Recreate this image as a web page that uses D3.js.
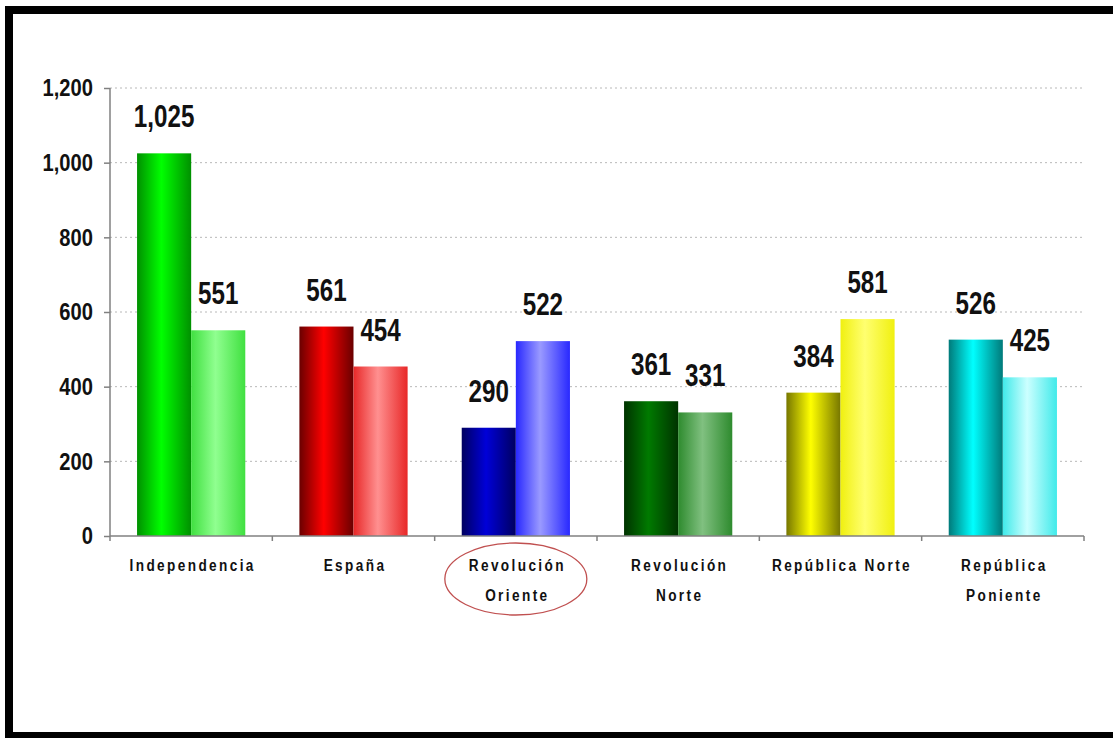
<!DOCTYPE html>
<html>

<head>
    <meta charset="utf-8">
    <title>Bar-Chart</title>
    <script src="https://cdn.jsdelivr.net/npm/d3@7/dist/d3.min.js"></script>
    <style>
        body {
            margin: 0;
            background-color: #ffffff;
        }

        text {
            font-family: "Liberation Sans", Arial, sans-serif;
            font-weight: bold;
        }
    </style>
</head>

<body>
    <svg width="1113" height="738" id="mainsvg"></svg>
    <script>
        // data
        const categories = ['Independencia', 'España', 'Revolución Oriente', 'Revolución Norte', 'República Norte', 'República Poniente'];
        const labelLines = [['Independencia'], ['España'], ['Revolución', 'Oriente'], ['Revolución', 'Norte'], ['República Norte'], ['República', 'Poniente']];
        const seriesA = [1025, 561, 290, 361, 384, 526];
        const seriesB = [551, 454, 522, 331, 581, 425];
        const yTicks = [0, 200, 400, 600, 800, 1000, 1200];

        // gradient colours per bar: [edge, centre]
        const colorsA = [['#009000', '#00ff00'], ['#6a0000', '#ff0000'], ['#000060', '#0000d8'],
        ['#003300', '#007a00'], ['#777700', '#ffff00'], ['#007a7a', '#00ffff']];
        const colorsB = [['#40e040', '#90ff90'], ['#e82828', '#ff9090'], ['#2828ff', '#9a9aff'],
        ['#2e8b2e', '#80c080'], ['#f0f010', '#ffff70'], ['#40eaea', '#ccffff']];

        const svg = d3.select('#mainsvg');
        const width = +svg.attr('width');
        const height = +svg.attr('height');
        const margin = { top: 88, right: 29, bottom: 202, left: 110 };
        const innerWidth = width - margin.left - margin.right;
        const innerHeight = height - margin.top - margin.bottom;
        const squeeze = 0.78; // narrow look of the numbers

        // black frame round the picture (top, left, bottom)
        const frame = [[9, 10, width, 10], [9, 6, 9, 738], [5, 736, width, 736]];
        svg.selectAll('.frame').data(frame).join('line')
            .attr('class', 'frame')
            .attr('x1', d => d[0]).attr('y1', d => d[1])
            .attr('x2', d => d[2]).attr('y2', d => d[3])
            .attr('stroke', '#000')
            .attr('stroke-width', 8);

        const defs = svg.append('defs');
        const addGradient = (id, c) => {
            const grad = defs.append('linearGradient').attr('id', id)
                .attr('x1', '0%').attr('x2', '100%').attr('y1', '0%').attr('y2', '0%');
            grad.append('stop').attr('offset', '0%').attr('stop-color', c[0]);
            grad.append('stop').attr('offset', '45%').attr('stop-color', c[1]);
            grad.append('stop').attr('offset', '100%').attr('stop-color', c[0]);
        };
        colorsA.forEach((c, i) => addGradient('gA' + i, c));
        colorsB.forEach((c, i) => addGradient('gB' + i, c));

        const data = categories.map((c, i) => ({ cat: c, i: i, a: seriesA[i], b: seriesB[i] }));

        const xScale = d3.scaleBand().domain(categories).range([0, innerWidth]);
        const xSub = d3.scaleBand().domain(['a', 'b']).range([0, xScale.bandwidth()])
            .paddingInner(0).paddingOuter(0.5);
        const yScale = d3.scaleLinear().domain([0, 1200]).range([innerHeight, 0]);

        const g = svg.append('g')
            .attr('transform', `translate(${margin.left}, ${margin.top})`)
            .attr('id', 'maingroup');

        // dotted grid lines
        g.selectAll('.grid').data(yTicks.filter(d => d > 0)).join('line')
            .attr('class', 'grid')
            .attr('x1', 0).attr('x2', innerWidth)
            .attr('y1', d => yScale(d)).attr('y2', d => yScale(d))
            .attr('stroke', '#b8b8b8')
            .attr('stroke-width', 1)
            .attr('stroke-dasharray', '2,3');

        // y axis
        const yAxis = d3.axisLeft(yScale)
            .tickValues(yTicks)
            .tickFormat(d3.format(','))
            .tickSize(6)
            .tickPadding(11);
        const yAxisGroup = g.append('g').call(yAxis).attr('id', 'yaxis');
        yAxisGroup.select('.domain').attr('stroke', '#808080').attr('stroke-width', 1.5)
            .attr('d', `M0,${innerHeight}V0`);
        yAxisGroup.selectAll('.tick line').attr('stroke', '#808080').attr('stroke-width', 1.5);
        yAxisGroup.selectAll('.tick text')
            .attr('font-size', 24)
            .attr('font-family', '"Liberation Sans", Arial, sans-serif')
            .attr('fill', '#111')
            .attr('x', -17 / 0.84)
            .attr('transform', 'scale(0.84,1)');

        // bars
        const groups = g.selectAll('.cat').data(data).join('g')
            .attr('class', 'cat')
            .attr('transform', d => `translate(${xScale(d.cat)}, 0)`);

        ['a', 'b'].forEach(key => {
            groups.append('rect')
                .attr('x', xSub(key))
                .attr('width', xSub.bandwidth())
                .attr('y', d => yScale(d[key]))
                .attr('height', d => innerHeight - yScale(d[key]))
                .attr('fill', d => `url(#g${key.toUpperCase()}${d.i})`);

            groups.append('g')
                .attr('transform', d => `translate(${xSub(key) + xSub.bandwidth() / 2}, ${yScale(d[key]) - 26}) scale(${squeeze},1)`)
                .append('text')
                .attr('text-anchor', 'middle')
                .attr('font-size', 31)
                .attr('fill', '#111')
                .text(d => d3.format(',')(d[key]));
        });

        // x axis
        const xAxisGroup = g.append('g').attr('transform', `translate(0, ${innerHeight})`).attr('id', 'xaxis');
        xAxisGroup.append('line')
            .attr('x1', 0).attr('x2', innerWidth)
            .attr('stroke', '#808080').attr('stroke-width', 1.5);
        xAxisGroup.selectAll('.xtick').data(categories.concat(['end'])).join('line')
            .attr('class', 'xtick')
            .attr('x1', (d, i) => i * xScale.step()).attr('x2', (d, i) => i * xScale.step())
            .attr('y1', 0).attr('y2', 5)
            .attr('stroke', '#808080').attr('stroke-width', 1.5);

        const catGroups = xAxisGroup.selectAll('.catlabel').data(data).join('g')
            .attr('class', 'catlabel')
            .attr('transform', d => `translate(${xScale(d.cat) + xScale.bandwidth() / 2 + 1.5}, 0) scale(0.8,1)`);
        catGroups.selectAll('text').data(d => labelLines[d.i]).join('text')
            .attr('x', 0)
            .attr('y', (d, i) => 35 + i * 30)
            .attr('text-anchor', 'middle')
            .attr('font-size', 17)
            .attr('letter-spacing', 3)
            .attr('fill', '#111')
            .text(d => d);

        // red ellipse round "Revolución Oriente"
        xAxisGroup.append('ellipse')
            .attr('cx', xScale('Revolución Oriente') + xScale.bandwidth() / 2)
            .attr('cy', 43)
            .attr('rx', 71).attr('ry', 36)
            .attr('fill', 'none')
            .attr('stroke', '#c05050')
            .attr('stroke-width', 1.3);
    </script>

</body>

</html>
